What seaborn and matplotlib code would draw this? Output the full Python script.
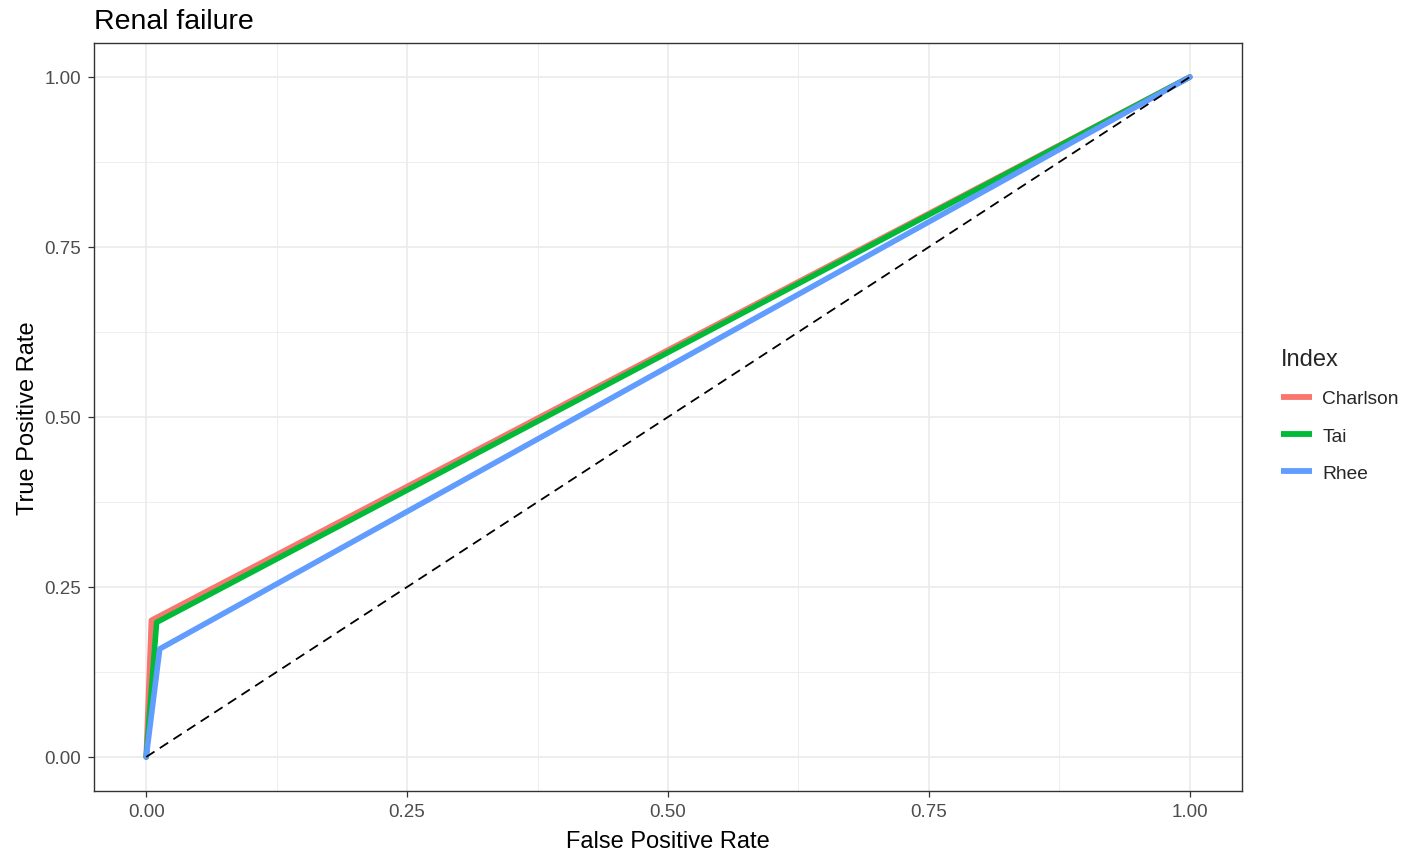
import matplotlib
matplotlib.use("Agg")
import matplotlib.pyplot as plt
import seaborn as sns
import pandas as pd
import numpy as np
from matplotlib.ticker import MultipleLocator

indices = ["Charlson", "Tai", "Rhee"]
fpr = {
    "Charlson": [0.0, 0.005, 1.0],
    "Tai": [0.0, 0.010, 1.0],
    "Rhee": [0.0, 0.013, 1.0],
}
tpr = {
    "Charlson": [0.0, 0.201, 1.0],
    "Tai": [0.0, 0.198, 1.0],
    "Rhee": [0.0, 0.159, 1.0],
}
colors = ["#F8766D", "#00BA38", "#619CFF"]
x_ticks = [0.0, 0.25, 0.50, 0.75, 1.00]
y_ticks = [0.0, 0.25, 0.50, 0.75, 1.00]

rows = []
for name in indices:
    for order, (x, y) in enumerate(zip(fpr[name], tpr[name])):
        rows.append({"Index": name, "FPR": x, "TPR": y, "order": order})
df = pd.DataFrame(rows)

sns.set_theme(style="white")
plt.rcParams["font.family"] = ["Liberation Sans", "DejaVu Sans"]

fig = plt.figure(figsize=(14.04, 8.53), dpi=100)
ax = fig.add_axes([94/1404, 1-792/853, (1242-94)/1404, (792-44)/853])

ax.set_xlim(-0.05, 1.05)
ax.set_ylim(-0.05, 1.05)
ax.xaxis.set_major_locator(MultipleLocator(0.25))
ax.yaxis.set_major_locator(MultipleLocator(0.25))
ax.xaxis.set_minor_locator(MultipleLocator(0.125))
ax.yaxis.set_minor_locator(MultipleLocator(0.125))
ax.grid(which="major", color="#EBEBEB", linewidth=1.2)
ax.grid(which="minor", color="#EBEBEB", linewidth=0.6)
ax.set_axisbelow(True)

sns.lineplot(data=df, x="FPR", y="TPR", hue="Index", hue_order=indices,
             palette=colors, sort=False, estimator=None, units="Index",
             linewidth=4.0, ax=ax, legend=True)

ax.plot([0, 1], [0, 1], color="black", linestyle=(0, (5.5, 3.5)), linewidth=1.3)

ax.set_xticks(x_ticks)
ax.set_yticks(y_ticks)
ax.set_xticklabels([f"{v:.2f}" for v in x_ticks])
ax.set_yticklabels([f"{v:.2f}" for v in y_ticks])
ax.tick_params(axis="x", which="major", length=4, width=0.9, color="#333333",
               labelsize=13.5, labelcolor="#4D4D4D", bottom=True, pad=5)
ax.tick_params(axis="y", which="major", length=4, width=0.9, color="#333333",
               labelsize=13.5, labelcolor="#4D4D4D", left=True, pad=5.5)
ax.tick_params(axis="both", which="minor", length=0)
for s in ax.spines.values():
    s.set_color("#333333")
    s.set_linewidth(1.0)

ax.set_xlabel("False Positive Rate", fontsize=17, color="black", labelpad=7)
ax.set_ylabel("True Positive Rate", fontsize=17, color="black", labelpad=3.5)
ax.set_title("Renal failure", fontsize=20.5, loc="left", x=0.0, pad=11, color="black")

handles, labels = ax.get_legend_handles_labels()
leg = ax.legend(handles, labels, title="Index", loc="upper left",
                bbox_to_anchor=(1264/1404, 1-332/853), bbox_transform=fig.transFigure,
                frameon=False, fontsize=13.8, title_fontsize=17,
                handlelength=1.6, handletextpad=0.55, labelspacing=1.03, alignment="left")
for h in leg.get_lines():
    h.set_linewidth(4.2)
    h.set_solid_capstyle("butt")

fig.savefig("out.png", dpi=100)
